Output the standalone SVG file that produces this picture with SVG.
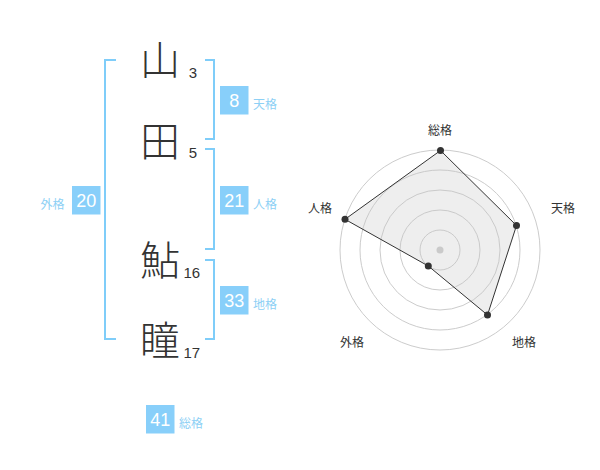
<svg xmlns="http://www.w3.org/2000/svg" width="600" height="470" viewBox="0 0 600 470">
<style>
.kanji{font-family:"Noto Sans CJK JP","Noto Sans CJK SC",sans-serif;font-size:40px;font-weight:300;fill:#333;text-anchor:middle}
.num{font-family:"Liberation Sans",Arial,sans-serif;font-size:15px;fill:#333}
.box{fill:#88cffa}
.bnum{font-family:"Liberation Sans",Arial,sans-serif;font-size:18px;fill:#fff;text-anchor:middle}
.lbl{font-family:"Noto Sans CJK JP","Noto Sans CJK SC",sans-serif;font-size:12px;fill:#8dd0f5}
.br{fill:none;stroke:#7fcdf9;stroke-width:2}
.ring{fill:none;stroke:#ccc;stroke-width:1}
.axl{font-family:"Noto Sans CJK JP","Noto Sans CJK SC",sans-serif;font-size:12px;fill:#333;text-anchor:middle}
.pt{fill:#333}
</style>
<rect width="600" height="470" fill="#fff"/>
<g id="connectors">
<path class="br" d="M116,60 H105 V339 H116"/>
<path class="br" d="M205,60 H214 V139 H205"/>
<path class="br" d="M205,149 H214 V249 H205"/>
<path class="br" d="M205,260 H214 V339 H205"/>
</g>
<g id="name">
<text class="kanji" x="160" y="75">山</text>
<text class="num" x="188.7" y="78">3</text>
<text class="kanji" x="160" y="156">田</text>
<text class="num" x="188.7" y="158">5</text>
<text class="kanji" x="160" y="275">鮎</text>
<text class="num" x="183.4" y="278">16</text>
<text class="kanji" x="160" y="355">瞳</text>
<text class="num" x="183.4" y="358">17</text>
</g>
<g id="tenkaku">
<rect class="box" x="220" y="86" width="28.5" height="28.5"/>
<text class="bnum" x="234.2" y="106.5">8</text>
<text class="lbl" x="253" y="108.5">天格</text>
</g>
<g id="jinkaku">
<rect class="box" x="220" y="186" width="28.5" height="28.5"/>
<text class="bnum" x="234.2" y="206.5">21</text>
<text class="lbl" x="253" y="208.5">人格</text>
</g>
<g id="chikaku">
<rect class="box" x="220" y="286" width="28.5" height="28.5"/>
<text class="bnum" x="234.2" y="306.5">33</text>
<text class="lbl" x="253" y="308.5">地格</text>
</g>
<g id="gaikaku">
<rect class="box" x="72" y="186" width="28.5" height="28.5"/>
<text class="bnum" x="86.2" y="206.5">20</text>
<text class="lbl" x="40.5" y="208.5">外格</text>
</g>
<g id="soukaku">
<rect class="box" x="146" y="405" width="28.5" height="28.5"/>
<text class="bnum" x="160.2" y="425.5">41</text>
<text class="lbl" x="179" y="427.5">総格</text>
</g>
<g id="radar">
<circle class="ring" cx="440" cy="250" r="20"/>
<circle class="ring" cx="440" cy="250" r="40"/>
<circle class="ring" cx="440" cy="250" r="60"/>
<circle class="ring" cx="440" cy="250" r="80"/>
<circle class="ring" cx="440" cy="250" r="100"/>
<circle cx="440" cy="250" r="3.5" fill="#ccc"/>
<polygon points="440.5,150.5 516.5,225.5 487.5,315 428.3,266 345,219.3" fill="rgba(200,200,200,0.3)" stroke="#333" stroke-width="1"/>
<circle class="pt" cx="440.5" cy="150.5" r="3.5"/>
<circle class="pt" cx="516.5" cy="225.5" r="3.5"/>
<circle class="pt" cx="487.5" cy="315" r="3.5"/>
<circle class="pt" cx="428.3" cy="266" r="3.5"/>
<circle class="pt" cx="345" cy="219.3" r="3.5"/>
<text class="axl" x="440" y="135">総格</text>
<text class="axl" x="563" y="212.5">天格</text>
<text class="axl" x="524" y="346.5">地格</text>
<text class="axl" x="352" y="346.5">外格</text>
<text class="axl" x="320" y="212.5">人格</text>
</g>
</svg>
